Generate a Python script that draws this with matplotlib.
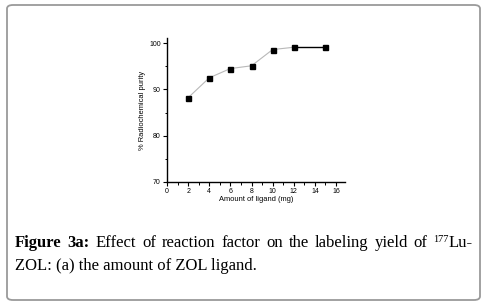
import matplotlib
matplotlib.use("Agg")
import matplotlib.pyplot as plt
from matplotlib.patches import FancyBboxPatch
from matplotlib.ticker import MultipleLocator

ligand_mg = [2, 4, 6, 8, 10, 12, 15]
purity = [88.2, 92.5, 94.5, 95.1, 98.6, 99.1, 99.1]
x_ticks = [0, 2, 4, 6, 8, 10, 12, 14, 16]
y_ticks = [70, 80, 90, 100]

W, H = 502, 305
fig = plt.figure(figsize=(W / 100, H / 100), dpi=100)
fig.patch.set_facecolor("white")

# rounded frame
frame = FancyBboxPatch((7 / W, 1 - 300 / H), (480 - 7) / W, (300 - 5) / H,
                       boxstyle="round,pad=0,rounding_size=0.012",
                       transform=fig.transFigure, fill=False,
                       edgecolor="#9a9a9a", linewidth=1.3, zorder=0)
fig.patches.append(frame)

ax = fig.add_axes([167 / W, 1 - 182 / H, (345 - 167) / W, (182 - 38) / H])
ax.plot(ligand_mg[:-1], purity[:-1], color="#b8b8b8", linewidth=0.8, zorder=1)
ax.plot(ligand_mg[-2:], purity[-2:], color="black", linewidth=1.0, zorder=1)
ax.plot(ligand_mg, purity, linestyle="none", marker="s", markersize=3.6,
        color="black", zorder=2)

ax.set_xlim(0, 16.85)
ax.set_ylim(70, 101.1)
ax.set_xticks(x_ticks)
ax.set_yticks(y_ticks)
ax.xaxis.set_minor_locator(MultipleLocator(1))
ax.yaxis.set_minor_locator(MultipleLocator(5))
for s in ["top", "right"]:
    ax.spines[s].set_visible(False)
for s in ["left", "bottom"]:
    ax.spines[s].set_linewidth(1.0)
ax.tick_params(which="major", direction="out", length=3, width=0.8,
               labelsize=5, pad=1.5)
ax.tick_params(which="minor", direction="out", length=1.8, width=0.7)
for lab in ax.get_xticklabels() + ax.get_yticklabels():
    lab.set_family("Liberation Sans")
ax.set_xlabel("Amount of ligand (mg)", fontsize=5.4, family="Liberation Sans",
              labelpad=0.5)
ax.set_ylabel("% Radiochemical purity", fontsize=5.4, family="Liberation Sans",
              labelpad=2)

# caption (justified first line)
fig.canvas.draw()
r = fig.canvas.get_renderer()
fs = 12
y1 = 1 - 247 / H
y2 = 1 - 270 / H
x_left, x_right = 15, 473
words = [("Figure", True), ("3a:", True), ("Effect", False), ("of", False),
         ("reaction", False), ("factor", False), ("on", False), ("the", False),
         ("labeling", False), ("yield", False), ("of", False)]
arts = []
for w, b in words:
    t = fig.text(0, y1, w, fontsize=fs, family="Liberation Serif",
                 fontweight="bold" if b else "normal", ha="left",
                 va="baseline")
    arts.append(t)
sup = fig.text(0, y1 + 5 / H, "177", fontsize=7.5, family="Liberation Serif",
               ha="left", va="baseline")
lu = fig.text(0, y1, "Lu-", fontsize=fs, family="Liberation Serif",
              ha="left", va="baseline")
widths = [t.get_window_extent(r).width for t in arts]
sw = sup.get_window_extent(r).width
lw = lu.get_window_extent(r).width
total = sum(widths) + sw + lw
gap = (x_right - x_left - total) / len(arts)
x = x_left
for t, wd in zip(arts, widths):
    t.set_x(x / W)
    x += wd + gap
sup.set_x(x / W)
lu.set_x((x + sw) / W)
fig.text(x_left / W, y2, "ZOL: (a) the amount of ZOL ligand.", fontsize=fs,
         family="Liberation Serif", ha="left", va="baseline")

fig.savefig("out.png", dpi=100, facecolor="white")
